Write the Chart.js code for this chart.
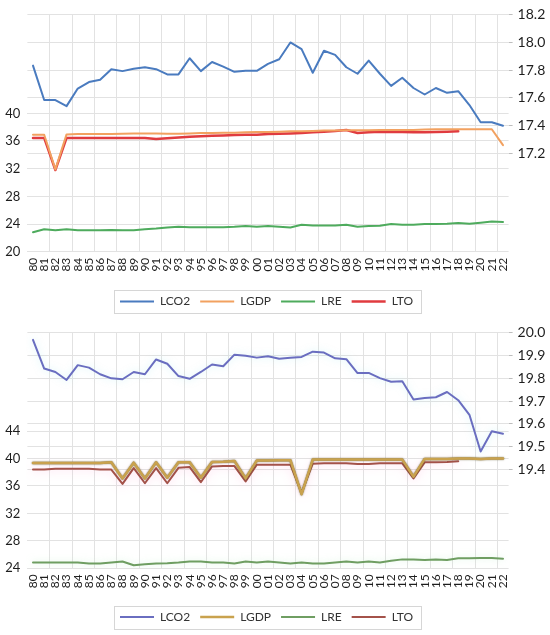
<!DOCTYPE html>
<html>
<head>
<meta charset="utf-8">
<script src="https://cdn.jsdelivr.net/npm/chart.js@4.4.1/dist/chart.umd.min.js"></script>
<style>
  html, body { margin: 0; padding: 0; background: #ffffff; }
  canvas { display: block; }
</style>
</head>
<body>
<canvas id="c1" width="550" height="318"></canvas>
<canvas id="c2" width="550" height="317"></canvas>
<script>
// ---------- data ----------
const years = ['80','81','82','83','84','85','86','87','88','89','90','91','92','93','94','95','96','97','98','99',
  '00','01','02','03','04','05','06','07','08','09','10','11','12','13','14','15','16','17','18','19','20','21','22'];

const seriesNames = ['LCO2', 'LGDP', 'LRE', 'LTO'];

// Panel 1 (right axis: LCO2, left axis: LGDP, LRE, LTO)
const lco2A = [17.833,17.584,17.584,17.54,17.667,17.714,17.73,17.807,17.793,17.81,
  17.821,17.807,17.769,17.769,17.886,17.793,17.859,17.826,17.788,17.795,
  17.795,17.845,17.879,18.0,17.952,17.781,17.94,17.91,17.821,17.774,
  17.869,17.774,17.686,17.745,17.671,17.624,17.671,17.636,17.648,17.548,
  17.424,17.424,17.398];
const lgdpA = [36.9,36.9,31.9,36.95,37.0,37.0,37.0,37.0,37.05,37.1,
  37.1,37.1,37.05,37.05,37.1,37.15,37.15,37.2,37.2,37.25,
  37.3,37.3,37.35,37.4,37.4,37.45,37.5,37.5,37.55,37.55,
  37.55,37.6,37.6,37.6,37.6,37.65,37.7,37.7,37.7,37.7,
  37.7,37.7,35.4];
const lreA = [22.8,23.25,23.1,23.25,23.1,23.1,23.1,23.15,23.1,23.1,
  23.25,23.35,23.5,23.6,23.55,23.55,23.55,23.55,23.6,23.7,
  23.6,23.7,23.6,23.5,23.9,23.8,23.8,23.8,23.9,23.6,
  23.7,23.75,24.0,23.9,23.9,24.0,24.0,24.05,24.15,24.05,
  24.2,24.35,24.3];
const ltoA = [36.45,36.45,31.8,36.45,36.45,36.45,36.45,36.45,36.45,36.45,
  36.45,36.3,36.4,36.5,36.6,36.7,36.75,36.8,36.85,36.9,
  36.9,37.0,37.05,37.1,37.15,37.25,37.35,37.45,37.6,37.15,
  37.25,37.35,37.3,37.3,37.25,37.25,37.3,37.35,37.4];

// Panel 2
const lco2B = [19.969,19.843,19.828,19.793,19.858,19.847,19.818,19.8,19.796,19.828,
  19.818,19.883,19.864,19.81,19.798,19.828,19.861,19.853,19.904,19.899,
  19.891,19.897,19.886,19.89,19.894,19.917,19.913,19.888,19.884,19.823,
  19.824,19.801,19.785,19.787,19.707,19.714,19.717,19.74,19.704,19.64,
  19.479,19.568,19.557];
const lgdpB = [39.35,39.35,39.35,39.35,39.35,39.35,39.35,39.45,37.1,39.4,
  37.1,39.45,37.2,39.45,39.45,37.2,39.5,39.55,39.65,37.1,
  39.7,39.7,39.75,39.75,34.8,39.85,39.85,39.85,39.85,39.85,
  39.85,39.85,39.85,39.85,37.35,39.95,39.95,39.95,40.0,40.0,
  39.95,40.0,40.0];
const lreB = [24.85,24.85,24.85,24.85,24.85,24.7,24.7,24.85,25.0,24.45,
  24.6,24.7,24.75,24.85,25.0,25.0,24.85,24.85,24.7,25.0,
  24.85,25.0,24.85,24.7,24.85,24.7,24.7,24.85,25.0,24.85,
  25.0,24.85,25.1,25.3,25.3,25.2,25.3,25.2,25.45,25.45,
  25.5,25.5,25.4];
const ltoB = [38.4,38.4,38.5,38.5,38.5,38.5,38.4,38.4,36.3,38.6,
  36.4,38.6,36.4,38.65,38.75,36.55,38.85,38.9,38.9,36.65,
  39.1,39.1,39.1,39.1,35.0,39.25,39.3,39.3,39.3,39.2,
  39.2,39.3,39.3,39.3,37.1,39.45,39.45,39.5,39.6];

// axis tick ranges shown
const leftTicksA = [20, 40, 4];     // min shown, max shown, step
const rightTicksA = [17.2, 18.2, 0.2];
const leftTicksB = [24, 44, 4];
const rightTicksB = [19.4, 20.0, 0.1];

// ---------- helpers ----------
Chart.defaults.font.family = 'Lato, "Open Sans", sans-serif';
Chart.defaults.color = '#1e1e1e';

const GRID = '#e2e2e2';

const legendShift = {
  id: 'legendShift',
  afterLayout(chart) {
    if (chart.legend) { chart.legend.right -= 17; }
  }
};

const legendBorder = {
  id: 'legendBorder',
  afterDraw(chart) {
    const lg = chart.legend;
    if (!lg || !lg.legendHitBoxes || !lg.legendHitBoxes.length) return;
    const hb = lg.legendHitBoxes;
    let l = Infinity, r = -Infinity, cy = 0;
    hb.forEach(h => { l = Math.min(l, h.left); r = Math.max(r, h.left + h.width); cy = h.top + h.height / 2; });
    const ctx = chart.ctx;
    ctx.save();
    ctx.strokeStyle = '#d6d6d6';
    ctx.lineWidth = 1;
    ctx.strokeRect(Math.round(l - 6) + 0.5, Math.round(cy - 11.5) + 0.5, Math.round(r - l + 14), 23);
    ctx.restore();
  }
};

const glowPlugin = {
  id: 'glow',
  beforeDatasetDraw(chart, args) {
    const ds = chart.data.datasets[args.index];
    if (ds.glowColor) {
      chart.ctx.save();
      chart.ctx.shadowColor = ds.glowColor;
      chart.ctx.shadowBlur = ds.glowBlur || 6;
    }
  },
  afterDatasetDraw(chart, args) {
    const ds = chart.data.datasets[args.index];
    if (ds.glowColor) chart.ctx.restore();
  }
};

function makeChart(id, cfg) {
  const L = cfg.left, R = cfg.right;
  return new Chart(document.getElementById(id), {
    type: 'line',
    data: {
      labels: years,
      datasets: cfg.datasets
    },
    options: {
      responsive: false,
      animation: false,
      devicePixelRatio: 1,
      layout: { padding: { top: cfg.top, left: 0, right: 0, bottom: cfg.bottom } },
      elements: { point: { radius: 0 }, line: { tension: 0, borderCapStyle: 'round', borderJoinStyle: 'round' } },
      plugins: {
        tooltip: { enabled: false },
        legend: {
          position: 'bottom',
          labels: {
            usePointStyle: true,
            pointStyle: 'line',
            pointStyleWidth: 34,
            padding: 10,
            color: '#333',
            font: { size: 12 }
          }
        }
      },
      scales: {
        x: {
          type: 'category',
          offset: true,
          border: { display: false },
          grid: {
            offset: true,
            drawTicks: false,
            color: ctx => (ctx.index > 0 && ctx.index % 2 === 0 && ctx.index < years.length) ? GRID : 'rgba(0,0,0,0)'
          },
          ticks: { autoSkip: false, minRotation: 90, maxRotation: 90, padding: 6, font: { size: 12 }, color: '#1e1e1e' },
          afterFit: s => { s.height = cfg.xHeight; }
        },
        yL: {
          position: 'left',
          min: L[0], max: cfg.leftMax,
          border: { display: false },
          grid: { color: GRID, drawTicks: false },
          ticks: { stepSize: L[2], padding: 7, font: { size: 13 }, color: '#1e1e1e', callback: v => String(Math.round(v)) },
          afterBuildTicks: s => { s.ticks = s.ticks.filter(t => t.value >= L[0] - 1e-6 && t.value <= L[1] + 1e-6); },
          afterFit: s => { s.width = cfg.leftWidth; }
        },
        yR: {
          position: 'right',
          min: cfg.rightMin, max: R[1],
          border: { display: false },
          grid: { color: GRID, drawTicks: true, tickLength: 4, tickColor: '#bdbdbd' },
          ticks: { stepSize: R[2], padding: 5, font: { size: 14 }, color: '#1e1e1e', callback: v => Number(v).toFixed(1) },
          afterBuildTicks: s => { s.ticks = s.ticks.filter(t => t.value >= R[0] - 1e-6 && t.value <= R[1] + 1e-6); },
          afterFit: s => { s.width = cfg.rightWidth; }
        }
      }
    },
    plugins: [legendShift, legendBorder, glowPlugin]
  });
}

// ---------- panel 1 ----------
makeChart('c1', {
  top: 12, bottom: 0.5, xHeight: 33.8, leftWidth: 27.4, rightWidth: 41.4,
  left: leftTicksA, right: rightTicksA, leftMax: 54.24, rightMin: 16.488,
  datasets: [
    { label: seriesNames[0], data: lco2A, yAxisID: 'yR', borderColor: '#4a7bbf', backgroundColor: '#4a7bbf', borderWidth: 2 },
    { label: seriesNames[1], data: lgdpA, yAxisID: 'yL', borderColor: '#f2a160', backgroundColor: '#f2a160', borderWidth: 2 },
    { label: seriesNames[2], data: lreA, yAxisID: 'yL', borderColor: '#4eab5d', backgroundColor: '#4eab5d', borderWidth: 2 },
    { label: seriesNames[3], data: ltoA, yAxisID: 'yL', borderColor: '#e03b3f', backgroundColor: '#e03b3f', borderWidth: 2.5 }
  ]
});

// ---------- panel 2 ----------
makeChart('c2', {
  top: 10, bottom: 2, xHeight: 32.7, leftWidth: 27.4, rightWidth: 41.4,
  left: leftTicksB, right: rightTicksB, leftMax: 58.33, rightMin: 18.966,
  datasets: [
    { label: seriesNames[0], data: lco2B, yAxisID: 'yR', borderColor: '#6a6ec0', backgroundColor: '#6a6ec0', borderWidth: 2,
      glowColor: 'rgba(170,235,240,0.5)', glowBlur: 7 },
    { label: seriesNames[1], data: lgdpB, yAxisID: 'yL', borderColor: '#c9a24e', backgroundColor: '#c9a24e', borderWidth: 2.5,
      glowColor: 'rgba(80,70,25,0.85)', glowBlur: 1.5 },
    { label: seriesNames[2], data: lreB, yAxisID: 'yL', borderColor: '#6f9e62', backgroundColor: '#6f9e62', borderWidth: 2,
      glowColor: 'rgba(195,240,205,0.6)', glowBlur: 7 },
    { label: seriesNames[3], data: ltoB, yAxisID: 'yL', borderColor: '#a4524a', backgroundColor: '#a4524a', borderWidth: 2,
      glowColor: 'rgba(255,175,215,0.7)', glowBlur: 10 }
  ]
});
</script>
</body>
</html>
